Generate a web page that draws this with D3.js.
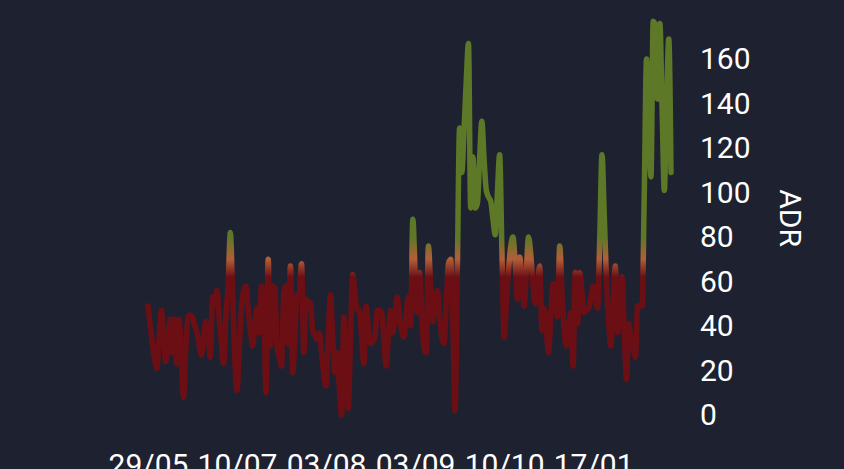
<!DOCTYPE html>
<html>
<head>
<meta charset="utf-8">
<script src="https://cdn.jsdelivr.net/npm/d3@7"></script>
<style>
  html, body { margin: 0; padding: 0; background: #1e2130; overflow: hidden; }
  svg { display: block; }
</style>
</head>
<body>
<div id="chart"></div>
<script>
// ADR per arrival day
var adr = [
  49, 40, 32, 25, 21, 35, 47, 36, 24, 32,
  43, 28, 43, 23, 43, 25, 8, 30, 44, 45,
  44, 40, 37, 31, 27, 35, 42, 37, 26, 53,
  50, 56, 43, 32, 23, 45, 58, 82, 55, 25,
  11, 30, 48, 56, 58, 48, 38, 31, 40, 48,
  37, 58, 53, 10, 70, 31, 58, 57, 31, 26,
  22, 55, 58, 32, 67, 19, 35, 54, 55, 68,
  28, 52, 51, 50, 38, 36, 34, 37, 28, 18,
  13, 35, 54, 35, 19, 28, 12, 0, 44, 20,
  3, 35, 63, 55, 47, 47, 35, 23, 49, 40,
  32, 33, 35, 47, 47, 46, 34, 22, 35, 47,
  37, 45, 53, 44, 38, 35, 45, 53, 40, 88,
  65, 46, 64, 45, 30, 28, 76, 58, 42, 50,
  56, 45, 35, 32, 50, 68, 70, 40, 2, 65,
  129, 109, 128, 150, 167, 93, 116, 93, 95, 115,
  132, 115, 101, 98, 96, 88, 81, 100, 117, 75,
  35, 50, 65, 76, 80, 68, 52, 71, 60, 49,
  65, 80, 72, 58, 50, 58, 67, 38, 48, 38,
  28, 45, 59, 52, 44, 76, 55, 38, 31, 40,
  46, 22, 64, 41, 64, 55, 46, 47, 48, 53,
  58, 53, 48, 80, 117, 90, 61, 42, 31, 50,
  67, 37, 50, 62, 38, 16, 41, 34, 30, 26,
  49, 49, 49, 100, 160, 130, 107, 177, 175, 142,
  176, 138, 101, 140, 169, 109
];

// one label every 40 days
var tickLabels = ["29/05", "10/07", "03/08", "03/09", "10/10", "17/01"];
var tickEvery = 40;

var yTicks = [0, 20, 40, 60, 80, 100, 120, 140, 160];

// colour bands of the line (by ADR value)
var bandValues = [0, 62, 70, 80, 180];
var bandColors = ["#6b0f15", "#6b0f15", "#b25e38", "#5d7826", "#5d7826"];

var width = 844, height = 469;

var svg = d3.select("#chart").append("svg")
  .attr("width", width)
  .attr("height", height);

var x = d3.scalePoint()
  .domain(d3.range(adr.length))
  .range([148, 671]);

var y = d3.scaleLinear()
  .domain([0, 160])
  .range([415, 59]);

//gradient along y, so colour follows the value
var grad = svg.append("defs").append("linearGradient")
  .attr("id", "adrGrad")
  .attr("gradientUnits", "userSpaceOnUse")
  .attr("x1", 0).attr("x2", 0)
  .attr("y1", y(bandValues[0]))
  .attr("y2", y(bandValues[bandValues.length - 1]));

grad.selectAll("stop")
  .data(bandValues)
  .enter().append("stop")
  .attr("offset", function(d) { return (d - bandValues[0]) / (bandValues[bandValues.length - 1] - bandValues[0]); })
  .attr("stop-color", function(d, i) { return bandColors[i]; });

var line = d3.line()
  .x(function(d, i) { return x(i); })
  .y(function(d) { return y(d); })
  .curve(d3.curveMonotoneX);

svg.append("path")
  .datum(adr)
  .attr("fill", "none")
  .attr("stroke", "url(#adrGrad)")
  .attr("stroke-width", 5.5)
  .attr("stroke-linejoin", "round")
  .attr("stroke-linecap", "round")
  .attr("d", line);

//Y axis on the right
var yAxis = d3.axisRight(y)
  .tickValues(yTicks)
  .tickSize(0)
  .tickPadding(10);

var yG = svg.append("g")
  .attr("transform", "translate(690,0)")
  .call(yAxis);

//X axis, labels only
var xAxis = d3.axisBottom(x)
  .tickValues(d3.range(0, adr.length, tickEvery))
  .tickFormat(function(d) { return tickLabels[d / tickEvery]; })
  .tickSize(0)
  .tickPadding(10);

var xG = svg.append("g")
  .attr("transform", "translate(0,444)")
  .call(xAxis);

[yG, xG].forEach(function(g) {
  g.select(".domain").remove();
  g.selectAll("text")
    .attr("fill", "#ffffff")
    .style("font-family", "Roboto, sans-serif")
    .style("font-size", "30px");
});

svg.append("text")
  .attr("transform", "translate(790,218) rotate(90)")
  .attr("text-anchor", "middle")
  .attr("dy", "0.35em")
  .attr("fill", "#ffffff")
  .style("font-family", "Roboto, sans-serif")
  .style("font-size", "30px")
  .text("ADR");
</script>
</body>
</html>
